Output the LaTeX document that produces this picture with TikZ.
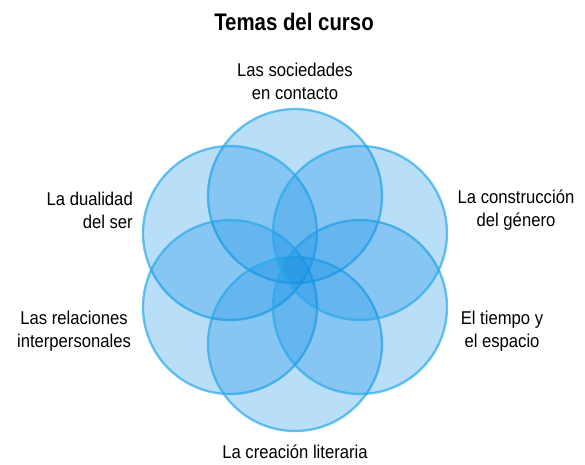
\documentclass[tikz,border=0pt]{standalone}
\usepackage{fontspec}
\setmainfont[FakeStretch=0.9]{Liberation Sans}
\newfontfamily\titlefont[FakeStretch=0.85]{Liberation Sans}
\definecolor{petal}{RGB}{15,140,228}
\definecolor{petaledge}{RGB}{40,170,235}
\begin{document}
\begin{tikzpicture}[x=1pt,y=-1pt,
  petalc/.style={circle,minimum size=174pt,inner sep=0pt,fill=petal,fill opacity=0.29,draw=petaledge,draw opacity=0.7,line width=2.3pt},
  lbl/.style={font=\fontsize{18.5}{23}\selectfont,text=black,inner sep=0pt}]
\useasboundingbox (0,0) rectangle (585,464);
\node[font=\titlefont\fontsize{24}{28}\selectfont\bfseries,inner sep=0pt] (title) at (294,22) {Temas del curso};
\foreach \x/\y/\n in {295/196/top,230/233/ul,230/307/ll,295/344/bot,360/307/lr,360/233/ur}{
  \node[petalc] (\n) at (\x,\y) {};
}
\node[lbl,align=center] (t1) at (295,81) {Las sociedades\\en contacto};
\node[lbl,align=right,anchor=east] (t2) at (133,210) {La dualidad\\del ser};
\node[lbl,align=center] (t3) at (74,331) {Las relaciones\\interpersonales};
\node[lbl,align=center] (t4) at (516,210) {La construcción\\del género};
\node[lbl,align=center] (t5) at (502,331) {El tiempo y\\el espacio};
\node[lbl] (t6) at (295,452) {La creación literaria};
\end{tikzpicture}
\end{document}
